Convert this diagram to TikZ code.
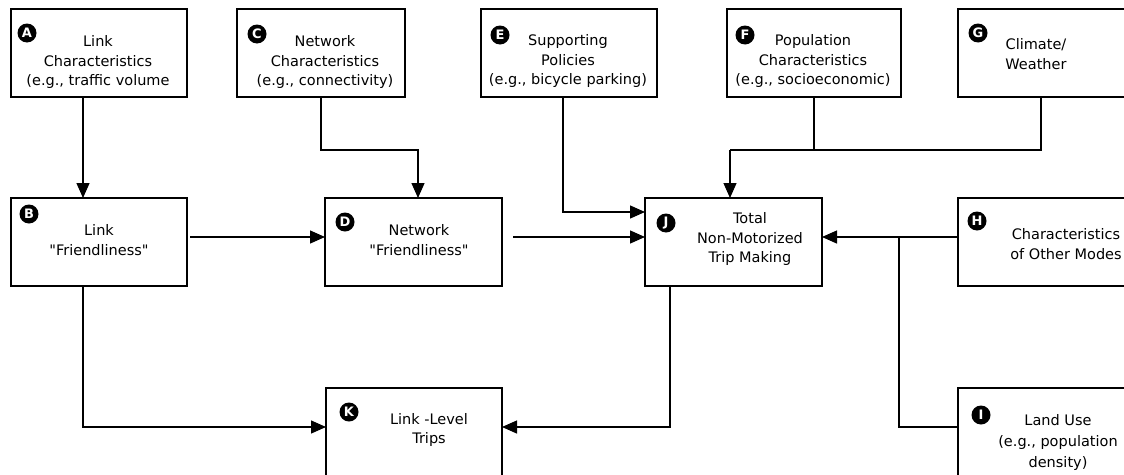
\documentclass[tikz,border=0pt]{standalone}
\usepackage{fontspec}
\setmainfont{DejaVu Sans}
\newfontfamily\dvs{DejaVu Sans}
\usetikzlibrary{arrows.meta}
\begin{document}
\begin{tikzpicture}[x=1pt,y=-1pt,
  box/.style={draw,line width=1.3pt,inner sep=0pt,outer sep=0pt,minimum height=88pt},
  txt/.style={align=center,inner sep=0pt,font=\dvs\fontsize{14.5}{19.5}\selectfont},
  badge/.style={circle,fill=black,text=white,inner sep=0pt,minimum size=19pt,font=\dvs\fontsize{13}{13}\selectfont\bfseries},
  conn/.style={line width=1.3pt},
  arr/.style={line width=1.3pt,-{Triangle[length=15pt,width=13pt]}}]
\useasboundingbox (0,0) rectangle (1124,474);
\clip (0,0) rectangle (1124,474);
\fill[white] (0,0) rectangle (1124,474);

% boxes
\node[box,minimum width=176pt] (A) at (99,53) {};
\node[box,minimum width=168pt] (C) at (321,53) {};
\node[box,minimum width=176pt] (E) at (569,53) {};
\node[box,minimum width=174pt] (F) at (814,53) {};
\node[box,minimum width=177pt] (G) at (1046.5,53) {};
\node[box,minimum width=176pt] (B) at (99,242) {};
\node[box,minimum width=177pt] (D) at (413.5,242) {};
\node[box,minimum width=177pt] (J) at (733.5,242) {};
\node[box,minimum width=177pt] (H) at (1046.5,242) {};
\node[box,minimum width=176pt,minimum height=92pt] (K) at (414,434) {};
\node[box,minimum width=177pt,minimum height=92pt] (I) at (1046.5,434) {};

% badges
\node[badge] (bA) at (27,33) {A};
\node[badge] (bC) at (257,34) {C};
\node[badge] (bE) at (500,35) {E};
\node[badge] (bF) at (745,35) {F};
\node[badge] (bG) at (978,33) {G};
\node[badge] (bB) at (29,214) {B};
\node[badge] (bD) at (345,222) {D};
\node[badge] (bJ) at (666,223) {J};
\node[badge] (bH) at (977,221) {H};
\node[badge] (bK) at (349,412) {K};
\node[badge] (bI) at (981,415) {I};

% texts
\node[txt] (tA) at (98,62) {Link\\Characteristics\\(e.g., traffic volume};
\node[txt] (tC) at (325,62) {Network\\Characteristics\\(e.g., connectivity)};
\node[txt] (tE) at (568,61) {Supporting\\Policies\\(e.g., bicycle parking)};
\node[txt] (tF) at (813,61) {Population\\Characteristics\\(e.g., socioeconomic)};
\node[txt] (tG) at (1036,54) {Climate/\\Weather};
\node[txt] (tB) at (99,240) {Link\\"Friendliness"};
\node[txt] (tD) at (419,240) {Network\\"Friendliness"};
\node[txt] (tJ) at (750,239) {Total\\Non-Motorized\\Trip Making};
\node[txt] (tH) at (1066,244) {Characteristics\\of Other Modes};
\node[txt] (tK) at (429,430) {Link -Level\\Trips};
\node[txt,font=\dvs\fontsize{14.5}{21}\selectfont] (tI) at (1058,442) {Land Use\\(e.g., population\\density)};

% connectors
\coordinate (fg) at (730,150);
\coordinate (hj) at (899,237);
\draw[arr] ([xshift=-16pt]A.south) -- ([xshift=-16pt]B.north);
\draw[arr] (C.south) |- ([xshift=4.5pt,yshift=48pt]D.north) -- ([xshift=4.5pt]D.north);
\draw[arr] ([xshift=-6pt]E.south) |- ([yshift=30pt]J.west);
\draw[conn] (F.south) |- (fg);
\draw[conn] ([xshift=-5.5pt]G.south) |- (fg);
\draw[arr] (fg) -- (fg |- J.north);
\draw[arr] ([xshift=3pt,yshift=5pt]B.east) -- ([yshift=5pt]D.west);
\draw[arr] ([xshift=11pt,yshift=5pt]D.east) -- ([yshift=5pt]J.west);
\draw[arr] ([yshift=5pt]H.west) -- ([yshift=5pt]J.east);
\draw[conn] (hj) |- ([yshift=7pt]I.west);
\draw[arr] ([xshift=-16pt]B.south) |- ([yshift=7pt]K.west);
\draw[arr] ([xshift=-63.5pt]J.south) |- ([yshift=7pt]K.east);
\end{tikzpicture}
\end{document}
